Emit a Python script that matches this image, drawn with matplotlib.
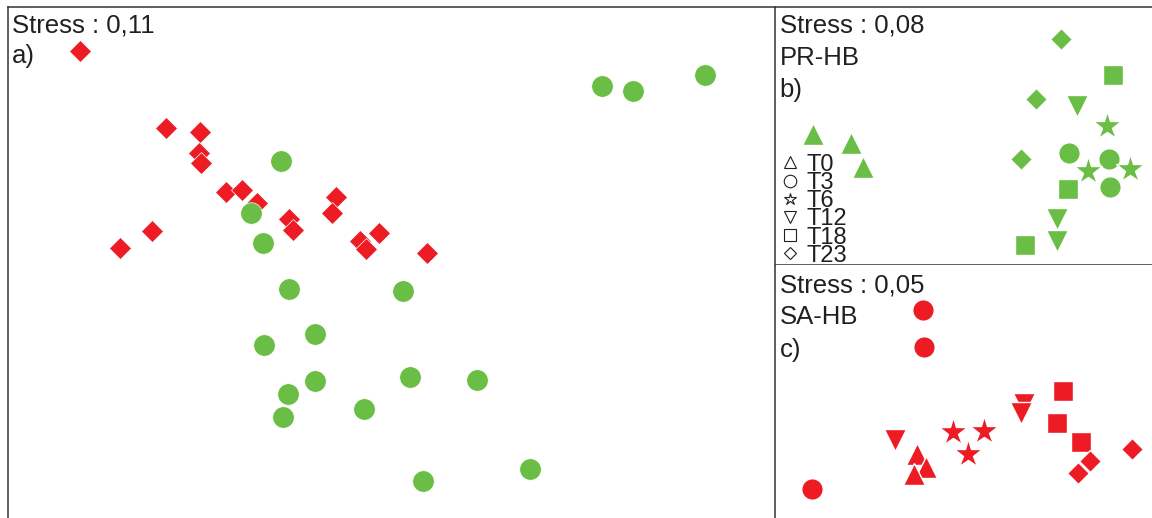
import matplotlib.pyplot as plt
from matplotlib.lines import Line2D

plt.rcParams['font.family'] = ['Liberation Sans', 'DejaVu Sans']

red = '#ed1c24'
green = '#6abd45'

# a) all samples, NMDS1 / NMDS2 scores
a_sa_x = [-3.12, -2.26, -1.92, -1.93, -1.91, -1.66, -1.50, -1.35, -2.40,
          -2.72, -1.03, -0.99, -0.56, -0.60, -0.13, -0.32, -0.26, 0.35]
a_sa_y = [2.11, 1.34, 1.30, 1.09, 0.99, 0.70, 0.72, 0.59, 0.31,
          0.14, 0.43, 0.32, 0.65, 0.49, 0.29, 0.21, 0.13, 0.09]
a_pr_x = [2.10, 2.41, 3.13, -1.11, -1.41, -1.29, -1.03, 0.11, -0.77,
          -1.28, 0.18, 0.85, -0.77, -1.04, -0.28, -1.09, 1.38, 0.31]
a_pr_y = [1.76, 1.71, 1.87, 1.01, 0.49, 0.19, -0.27, -0.29, -0.72,
          -0.83, -1.15, -1.18, -1.19, -1.32, -1.47, -1.55, -2.07, -2.19]

times = ['T0', 'T3', 'T6', 'T12', 'T18', 'T23']
markers = ['^', 'o', '*', 'v', 's', 'D']
sizes = [16, 15.5, 21, 16, 15, 11]

# b) PR-HB, three replicates per sampling time
b_x = {'T0': [-1.51, -1.13, -1.01], 'T3': [1.05, 1.45, 1.46],
       'T6': [1.43, 1.24, 1.66], 'T12': [1.13, 0.93, 0.93],
       'T18': [1.49, 1.04, 0.61], 'T23': [0.97, 0.72, 0.57]}
b_y = {'T0': [0.02, -0.07, -0.31], 'T3': [-0.17, -0.23, -0.51],
       'T6': [0.10, -0.35, -0.33], 'T12': [0.30, -0.83, -1.05],
       'T18': [0.61, -0.53, -1.09], 'T23': [0.97, 0.37, -0.23]}

# c) SA-HB
c_x = {'T0': [-0.47, -0.38, -0.50], 'T3': [-0.41, -0.40, -1.52],
       'T6': [-0.11, 0.20, 0.04], 'T12': [-0.69, 0.60, 0.57],
       'T18': [0.99, 0.93, 1.17], 'T23': [1.68, 1.26, 1.14]}
c_y = {'T0': [-0.62, -0.75, -0.82], 'T3': [0.82, 0.45, -0.97],
       'T6': [-0.40, -0.39, -0.62], 'T12': [-0.48, -0.12, -0.21],
       'T18': [0.01, -0.31, -0.50], 'T23': [-0.57, -0.69, -0.81]}

fig = plt.figure(figsize=(11.52, 5.18), dpi=100)
W, H = 1152, 518
ax_a = fig.add_axes([8 / W, 0, 767.5 / W, 511 / H])
ax_b = fig.add_axes([775.5 / W, 253 / H, 376.5 / W, 258 / H])
ax_c = fig.add_axes([775.5 / W, 0, 376.5 / W, 253 / H])

ax_a.plot(a_sa_x, a_sa_y, ls='none', marker='D', ms=11, color=red,
          mec='white', mew=0.5)
ax_a.plot(a_pr_x, a_pr_y, ls='none', marker='o', ms=15.5, color=green,
          mec='white', mew=0.5)
ax_a.set_xlim(-3.84, 3.835)
ax_a.set_ylim(-2.56, 2.55)

for ax, xs, ys, col in [(ax_b, b_x, b_y, green), (ax_c, c_x, c_y, red)]:
    for t, m, s in zip(times, markers, sizes):
        ax.plot(xs[t], ys[t], ls='none', marker=m, ms=s, color=col,
                mec='white', mew=1)
ax_b.set_xlim(-1.885, 1.88)
ax_b.set_ylim(-1.29, 1.29)
ax_c.set_xlim(-1.885, 1.88)
ax_c.set_ylim(-1.26, 1.27)

for ax in (ax_a, ax_b, ax_c):
    ax.set_xticks([])
    ax.set_yticks([])
    for sp in ax.spines.values():
        sp.set_linewidth(1.1)
        sp.set_color('#333333')
ax_a.spines['bottom'].set_visible(False)
ax_b.spines['left'].set_visible(False)
ax_b.spines['right'].set_visible(False)
ax_c.spines['left'].set_visible(False)
ax_c.spines['right'].set_visible(False)
ax_c.spines['top'].set_visible(False)
ax_c.spines['bottom'].set_visible(False)


def label(ax, lines, tops):
    for txt, dy in zip(lines, tops):
        ax.annotate(txt, xy=(0, 1), xycoords='axes fraction',
                    xytext=(3, -dy * 0.72), textcoords='offset points',
                    fontsize=18.5, color='#231f20', va='baseline', ha='left')


label(ax_a, ['Stress : 0,11', 'a)'], [26, 56])
label(ax_b, ['Stress : 0,08', 'PR-HB', 'b)'], [26, 58, 90])
label(ax_c, ['Stress : 0,05', 'SA-HB', 'c)'], [27, 59, 92])

handles = [Line2D([], [], ls='none', marker=m, ms=9 if m != 'D' else 6.5,
                  mfc='none', mec='#231f20', mew=0.8) for m in markers]
ax_b.legend(handles, times, loc='lower left', bbox_to_anchor=(0.0, -0.025),
            frameon=False, fontsize=17, labelspacing=-0.16, handlelength=0.8,
            handletextpad=0.3, borderpad=0.2, borderaxespad=0,
            labelcolor='#231f20')

fig.savefig('out.png', dpi=100)
